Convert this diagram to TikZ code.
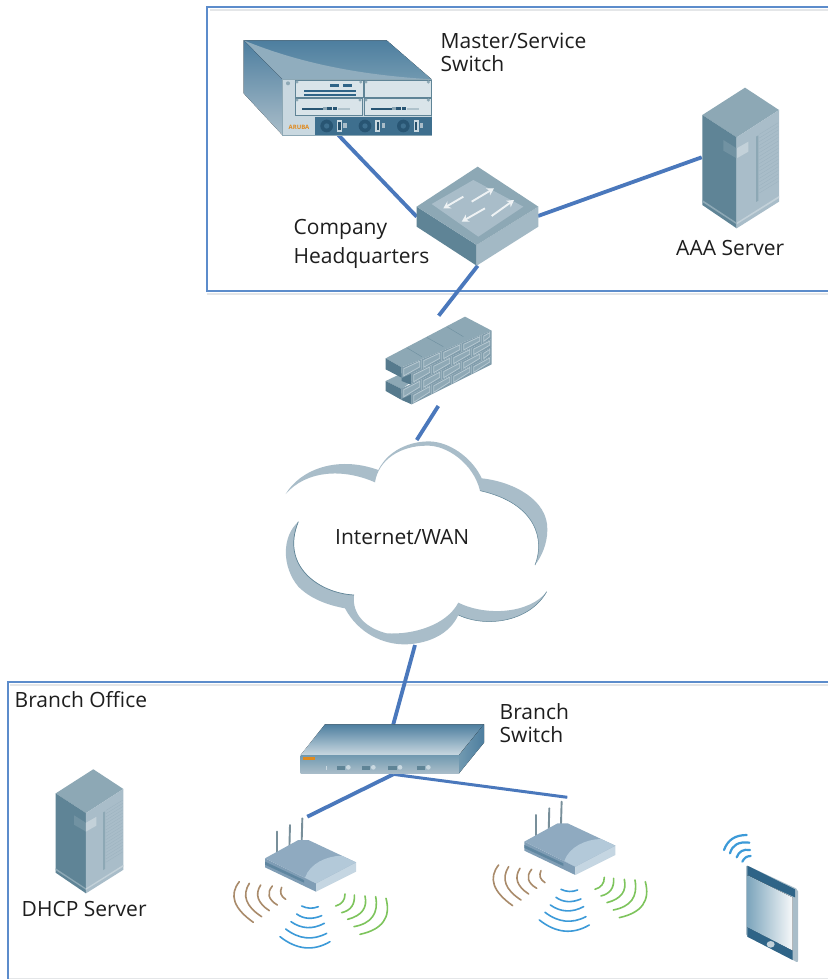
\documentclass[tikz,border=0pt]{standalone}
\usepackage{fontspec}
\setmainfont{Open Sans}
\usetikzlibrary{arrows.meta}
\definecolor{linkblue}{HTML}{4A78BC}
\definecolor{frameblue}{HTML}{5C8CCB}
\definecolor{shadowgrey}{HTML}{E4E6E8}
\definecolor{txt}{HTML}{1E1E1E}
\definecolor{slateD}{HTML}{567A8D}
\definecolor{slateL}{HTML}{5F8496}
\definecolor{slateM}{HTML}{8DA8B5}
\definecolor{slateH}{HTML}{A9BDC9}
\definecolor{deep}{HTML}{2F6487}
\definecolor{chassisA}{HTML}{4D7E9F}
\definecolor{chassisB}{HTML}{7199B0}
\definecolor{panel}{HTML}{C9D8E0}
\definecolor{band}{HTML}{3E6F8E}
\definecolor{apTop}{HTML}{8FAAC0}
\definecolor{apHigh}{HTML}{B3C9D9}
\definecolor{apLeft}{HTML}{7F9DB5}
\definecolor{apRight}{HTML}{C5D6E2}
\definecolor{apStripe}{HTML}{5F86A0}
\definecolor{brickOut}{HTML}{B7C9D2}
\definecolor{brickIn}{HTML}{8FA9B6}
\definecolor{wavebrown}{HTML}{A98B6B}
\definecolor{waveblue}{HTML}{3C9AD8}
\definecolor{wavegreen}{HTML}{7DC45C}
\definecolor{arubaorange}{HTML}{E08A1E}
\newcommand\qarc[7]{\draw[#1] (#2,#3) .. controls ({#2+0.667*(#4-#2)},{#3+0.667*(#5-#3)}) and ({#6+0.667*(#4-#6)},{#7+0.667*(#5-#7)}) .. (#6,#7);}
\tikzset{
  declare function={walltop(\x)=175-0.408*(\x-110); wallbot(\x)=298-0.5*(\x-110);},
  lab/.style={anchor=base west,inner sep=0pt,text=txt,font=\fontsize{21}{24}\selectfont},
  link/.style={draw=linkblue,line width=3.8pt},
  frame/.style={draw=frameblue,line width=1.3pt},
  frameshadow/.style={draw=shadowgrey,line width=2pt},
  wavebr/.style={wavebrown,line width=1.6pt,line cap=round},
  wavebl/.style={waveblue,line width=1.6pt,line cap=round},
  wavegr/.style={wavegreen,line width=1.6pt,line cap=round},
  wavetab/.style={waveblue,line width=2.2pt,line cap=round},
  hubarrow/.style={draw=white!80!slateH,line width=1.9pt,-{Stealth[length=7pt,width=8pt]}},
  pics/serverbox/.style={code={
    \fill[slateM] (195,23)--(297,90)--(170,172)--(67,105)--cycle;
    \fill[slateL] (67,105)--(170,172)--(170,445)--(67,375)--cycle;
    \fill[slateH] (170,172)--(297,90)--(297,365)--(170,445)--cycle;
    \fill[slateL!60!slateM] (130,180)--(170,205)--(170,235)--(130,212)--cycle;
    \fill[slateH!70!white] (170,205)--(205,185)--(205,215)--(170,235)--cycle;
    \foreach \k in {0,...,16}{
      \draw[slateM!50!slateH,line width=.3pt] (238,{163+11*\k})--(295,{128+11*\k});
    }
    \fill[slateM] (228,170)--(235,166)--(235,362)--(228,366)--cycle;
    \fill[slateM] (67,360)--(170,428)--(170,433)--(67,366)--cycle;
    \fill[slateH!70!white] (170,428)--(297,348)--(297,354)--(170,433)--cycle;
  }},
  pics/apbox/.style={code={
    \foreach \ax/\ay/\bx/\by in {140/155/140/228,180/135/178/210,217/115/215/185}{
      \draw[line width=1.9pt,color=slateM!85!black,line cap=round] (\ax,\ay)--(\bx,\by);
    }
    \fill[apLeft] (105,235)--(258,310)--(258,335)--(105,262)--cycle;
    \fill[apStripe] (105,245)--(222,300)--(222,308)--(105,254)--cycle;
    \fill[apRight] (258,310)--(378,247)--(378,275)--(258,335)--cycle;
    \fill[apTop] (105,235)--(205,180)--(235,180)--(378,247)--(258,310)--cycle;
    \fill[apHigh] (225,293) .. controls (240,250) and (290,228) .. (335,227)--(378,247)--(258,310)--cycle;
    \qarc{wavebr}{155}{322}{145}{344}{167}{358}
    \qarc{wavebr}{127}{318}{101}{350}{142}{375}
    \qarc{wavebr}{92}{315}{65}{357}{118}{392}
    \qarc{wavebr}{58}{310}{24}{364}{95}{410}
    \qarc{wavebr}{28}{305}{-19}{364}{70}{427}
    \qarc{wavebl}{215}{378}{240}{390}{265}{380}
    \qarc{wavebl}{200}{402}{232}{425}{275}{407}
    \qarc{wavebl}{183}{425}{230}{458}{283}{430}
    \qarc{wavebl}{167}{447}{227}{493}{290}{460}
    \qarc{wavebl}{150}{470}{225}{529}{300}{485}
    \qarc{wavegr}{345}{342}{345}{370}{317}{378}
    \qarc{wavegr}{373}{345}{376}{388}{335}{398}
    \qarc{wavegr}{405}{348}{417}{401}{353}{418}
    \qarc{wavegr}{437}{350}{451}{425}{372}{440}
    \qarc{wavegr}{468}{355}{491}{441}{390}{463}
  }}
}
\begin{document}
\begin{tikzpicture}[x=1pt,y=-1pt]
\useasboundingbox (0,0) rectangle (828,979);
\fill[white] (0,0) rectangle (828,979);

% frames
\draw[frameshadow] (828,10)--(210,10);
\draw[frameshadow] (828,294)--(207,294);
\draw[frameshadow] (828,685)--(10,685);
\draw[draw=shadowgrey,line width=1pt] (8,978)--(828,978);
\draw[frame] (828,7)--(207,7)--(207,291)--(828,291);
\draw[frame] (828,682)--(8,682)--(8,979);

% ports
\coordinate (chassisPort) at (338.3,135);
\coordinate (hubLeft) at (416.7,216.7);
\coordinate (hubRight) at (538,216);
\coordinate (hubBottom) at (477.7,265.7);
\coordinate (aaaPort) at (701.7,157.3);
\coordinate (wallTop) at (438.7,315.7);
\coordinate (wallBottom) at (438.3,406);
\coordinate (cloudTop) at (416.7,440);
\coordinate (cloudBottom) at (415,645);
\coordinate (branchTop) at (393.3,724.3);
\coordinate (branchBottom) at (393.3,774.3);
\coordinate (apLeftEnd) at (307.3,816.7);
\coordinate (apRightEnd) at (567.3,797.3);

% connectors
\draw[link] (chassisPort)--(hubLeft);
\draw[link] (hubRight)--(aaaPort);
\draw[link] (hubBottom)--(wallTop);
\draw[link] (wallBottom)--(cloudTop);
\draw[link] (cloudBottom)--(branchTop);
\draw[link] (branchBottom)--(apLeftEnd);
\draw[link,line width=3pt] (branchBottom)--(apRightEnd);

% chassis
\begin{scope}[shift={(200,0)},scale=1/3]
  \fill[top color=chassisA,bottom color=chassisB] (131,121)--(560,121)--(695,238)--(247,238)--cycle;
  \fill[slateH!55!chassisB] (131,121) .. controls (300,190) and (480,225) .. (695,238)--(247,238)--cycle;
  \fill[top color=chassisA,bottom color=slateH] (131,121)--(247,238)--(247,405)--(131,280)--cycle;
  \fill[panel] (247,238) rectangle (695,405);
  \draw[slateM,line width=.5pt] (247,238) rectangle (695,405);
  \foreach \mx/\mw/\my in {285/205/242,492/201/242,285/203/296,492/201/296}{
    \fill[panel!70!white] (\mx,\my) rectangle ++(\mw,51);
    \draw[slateL,line width=.4pt] (\mx,\my) rectangle ++(\mw,51);
    \fill[slateM] (\mx+6,\my+4) circle (5);
    \fill[slateM] (\mx+\mw-8,\my+4) circle (5);
  }
  \fill[slateM] (264,250) circle (6);
  \foreach \mx in {285,492}{
    \fill[deep!85!black] (\mx+22,323) rectangle ++(63,6);
    \fill[slateM] (\mx+85,322) rectangle ++(15,8);
    \fill[deep!85!black] (\mx+97,321) rectangle ++(13,10);
    \fill[deep!85!black] (\mx+113,321) rectangle ++(13,10);
    \fill[slateM!70!white] (\mx+130,323) rectangle ++(35,6);
  }
  \fill[deep] (390,252) rectangle (416,262);
  \fill[deep] (428,252) rectangle (455,262);
  \draw[deep,line width=2.2pt,dash pattern=on 1.5pt off .5pt] (312,273)--(468,273);
  \draw[deep,line width=2.2pt,dash pattern=on 1.5pt off .5pt] (312,284)--(468,284);
  \fill[band] (345,350) rectangle (695,405);
  \foreach \f in {380,495,610}{
    \fill[deep!85!black] (\f,378) circle (19);
    \fill[band] (\f,378) circle (8);
    \fill[panel] (\f+31,361) rectangle (\f+46,395);
    \fill[deep!80!black] (\f+35,366) rectangle (\f+42,390);
    \fill[slateH] (\f+50,370) rectangle (\f+60,385);
  }
\end{scope}
\node[inner sep=0pt,text=arubaorange,font=\fontsize{6}{7}\bfseries\selectfont] (arubaMark) at (299,127.5) {ARUBA};

% hub
\begin{scope}[shift={(200,0)},scale=1/3]
  \fill[slateL] (650,620)--(830,735)--(830,797)--(650,680)--cycle;
  \fill[slateH!80!slateM] (830,735)--(1015,620)--(1015,680)--(830,797)--cycle;
  \fill[slateM] (833,500)--(1015,620)--(830,735)--(650,620)--cycle;
  \fill[slateH] (820,540)--(970,620)--(835,710)--(695,612)--cycle;
  \draw[hubarrow] (790,590)--(730,625);
  \draw[hubarrow] (815,605)--(882,565);
  \draw[hubarrow] (855,625)--(785,665);
  \draw[hubarrow] (875,648)--(942,600);
\end{scope}

% servers
\pic[scale=1/3] at (680,80) {serverbox};
\pic[scale=0.294] at (36,762.5) {serverbox};

% firewall
\begin{scope}[shift={(375,305)},scale=1/3]
  \fill[slateM] (32,160)--(270,35)--(350,77)--(80,187)--cycle;
  \draw[slateL!70!slateM,line width=.4pt] (95,128)--(140,155);
  \draw[slateL!70!slateM,line width=.4pt] (155,97)--(205,125);
  \draw[slateL!70!slateM,line width=.4pt] (215,65)--(265,95);
  \fill[slateM] (32,228)--(80,205)--(110,230)--(80,252)--cycle;
  \fill[slateD] (32,160)--(80,187)--(80,218)--(32,193)--cycle;
  \fill[slateD] (80,205)--(110,205)--(110,240)--(80,228)--cycle;
  \fill[slateD] (32,228)--(80,252)--(80,285)--(32,258)--cycle;
  \fill[slateD] (80,265)--(110,265)--(110,298)--(80,285)--cycle;
  \foreach \r/\xs in {0/{80,140,200,260,320},1/{110,170,230,290},2/{80,140,200,260,320},3/{110,170,230,290}}{
    \foreach \xa in \xs {
      \pgfmathsetmacro{\xb}{min(\xa+60,350)}
      \pgfmathsetmacro{\ya}{walltop(\xa)+\r*(wallbot(\xa)-walltop(\xa))/4}
      \pgfmathsetmacro{\yb}{walltop(\xb)+\r*(wallbot(\xb)-walltop(\xb))/4}
      \pgfmathsetmacro{\yc}{walltop(\xb)+(\r+1)*(wallbot(\xb)-walltop(\xb))/4}
      \pgfmathsetmacro{\yd}{walltop(\xa)+(\r+1)*(wallbot(\xa)-walltop(\xa))/4}
      \fill[brickIn!75!slateD] (\xa,\ya)--(\xb,\yb)--(\xb,\yc)--(\xa,\yd)--cycle;
      \draw[brickOut,fill=brickIn,line width=.8pt]
        (\xa+6,\ya+4)--(\xb-6,\yb+6)--(\xb-6,\yc-7)--(\xa+6,\yd-6)--cycle;
    }
  }
\end{scope}

% cloud
\begin{scope}[shift={(270,300)},scale=1/3]
  \fill[slateH] (47,582) .. controls (90,510) and (200,465) .. (325,510)
     .. controls (360,440) and (440,420) .. (490,425)
     .. controls (550,432) and (610,480) .. (635,535)
     .. controls (730,545) and (835,600) .. (832,690)
     .. controls (832,730) and (815,770) .. (795,795)
     .. controls (825,720) and (800,610) .. (630,572)
     .. controls (610,490) and (530,435) .. (470,437)
     .. controls (390,437) and (325,480) .. (315,547)
     .. controls (220,505) and (110,510) .. (47,582) -- cycle;
  \fill[slateH] (85,665) .. controls (35,710) and (35,800) .. (85,860)
     .. controls (120,895) and (170,915) .. (225,925)
     .. controls (265,1000) and (340,1035) .. (410,1033)
     .. controls (480,1030) and (540,1000) .. (565,945)
     .. controls (650,985) and (780,965) .. (830,875)
     .. controls (780,940) and (650,950) .. (565,908)
     .. controls (530,975) and (430,1005) .. (350,1000)
     .. controls (290,985) and (245,945) .. (252,885)
     .. controls (150,880) and (30,800) .. (85,665) -- cycle;
  \draw[slateL,line width=.7pt] (85,665) .. controls (30,800) and (150,880) .. (252,885);
  \draw[slateL,line width=.5pt] (565,945) .. controls (650,985) and (780,965) .. (830,875);
  \draw[slateL,line width=.5pt] (630,572) .. controls (800,610) and (825,720) .. (795,795);
\end{scope}

% branch switch
\begin{scope}[shift={(280,680)},scale=1/3]
  \fill[top color=chassisA,bottom color=panel] (135,133)--(612,133)--(537,225)--(62,225)--cycle;
  \fill[top color=chassisB,bottom color=slateH] (62,225) rectangle (537,280);
  \fill[left color=chassisB,right color=chassisA] (537,225)--(612,133)--(612,188)--(537,280)--cycle;
  \fill[arubaorange] (70,232) rectangle (105,240);
  \foreach \p in {170,245,325,410}{
    \fill[slateL] (\p,258) rectangle (\p+25,270);
    \fill[panel] (\p+35,262) circle (7);
  }
  \fill[panel] (137,258) rectangle (140,270);
\end{scope}

% access points
\pic[scale=1/3] at (230,780) {apbox};
\pic[scale=1/3] at (489.3,763.3) {apbox};

% tablet
\begin{scope}[shift={(710,820)},scale=1/3]
  \fill[slateH,rounded corners=2pt] (108,135)--(264,208)--(264,428)--(108,348)--cycle;
  \fill[deep] (112,137)--(255,208)--(255,232)--(112,168)--cycle;
  \fill[left color=slateM!80!waveblue,right color=white!90!slateH] (112,165)--(248,233)--(248,392)--(112,322)--cycle;
  \fill[deep] (112,322)--(248,392)--(248,420)--(112,350)--cycle;
  \fill[slateH!70!white] (182,373) ellipse (12 and 10);
  \qarc{wavetab}{97}{125}{105}{108}{122}{108}
  \qarc{wavetab}{80}{112}{90}{85}{120}{90}
  \qarc{wavetab}{60}{100}{70}{62}{118}{68}
  \qarc{wavetab}{42}{90}{58}{45}{110}{45}
\end{scope}

% labels
\node[lab] (masterA) at (440.5,49) {Master/Service};
\node[lab] (masterB) at (440.5,72) {Switch};
\node[lab] (hqA) at (293.5,234) {Company};
\node[lab] (hqB) at (293.5,263) {Headquarters};
\node[lab] (aaa) at (676,255) {AAA Server};
\node[lab] (wan) at (335,544) {Internet/WAN};
\node[lab] (branchOffice) at (14.5,707) {Branch Office};
\node[lab] (branchA) at (499.5,719) {Branch};
\node[lab] (branchB) at (499.5,742) {Switch};
\node[lab] (dhcp) at (21.5,916) {DHCP Server};
\end{tikzpicture}
\end{document}
